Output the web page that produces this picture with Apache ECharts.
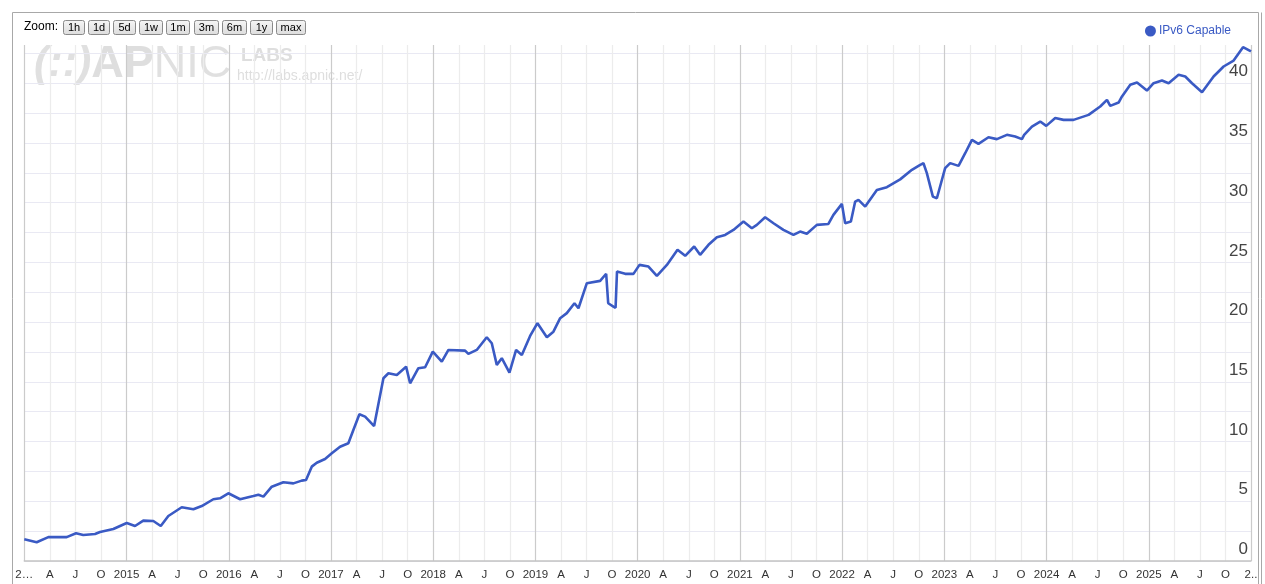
<!DOCTYPE html>
<html>
<head>
<meta charset="utf-8">
<script src="https://cdn.jsdelivr.net/npm/echarts@6/dist/echarts.min.js"></script>
<style>
html,body{margin:0;padding:0;background:#fff;}
#chart{width:1265px;height:584px;}
</style>
</head>
<body>
<div id="chart"></div>
<script>
// Time in decimal years (2014.5 = early July 2014)
const years = [
  2014.000, 2014.121, 2014.235, 2014.415, 2014.506, 2014.577, 2014.692, 2014.741, 2014.871,
  2015.002, 2015.083, 2015.164, 2015.262, 2015.335, 2015.409, 2015.540, 2015.654, 2015.736, 2015.849, 2015.915,
  2015.996, 2016.111, 2016.241, 2016.290, 2016.339, 2016.421, 2016.534, 2016.632, 2016.714, 2016.756, 2016.812, 2016.861, 2016.942,
  2017.008, 2017.089, 2017.170, 2017.219, 2017.278, 2017.334, 2017.422, 2017.513, 2017.562, 2017.644, 2017.735, 2017.774, 2017.855, 2017.921,
  2017.996, 2018.084, 2018.149, 2018.312, 2018.344, 2018.426, 2018.524, 2018.573, 2018.622, 2018.671, 2018.746, 2018.811, 2018.867, 2018.948,
  2019.020, 2019.112, 2019.176, 2019.242, 2019.307, 2019.382, 2019.421, 2019.503, 2019.633, 2019.692, 2019.712, 2019.763, 2019.784, 2019.798, 2019.878, 2019.959,
  2020.018, 2020.106, 2020.188, 2020.286, 2020.390, 2020.465, 2020.553, 2020.611, 2020.693, 2020.775, 2020.856, 2020.937,
  2021.035, 2021.117, 2021.166, 2021.247, 2021.329, 2021.426, 2021.524, 2021.589, 2021.655, 2021.753, 2021.866, 2021.915, 2021.998,
  2022.030, 2022.086, 2022.128, 2022.160, 2022.226, 2022.340, 2022.438, 2022.568, 2022.683, 2022.764, 2022.796, 2022.829, 2022.888, 2022.927, 2022.976,
  2023.008, 2023.057, 2023.139, 2023.204, 2023.270, 2023.334, 2023.432, 2023.514, 2023.612, 2023.693, 2023.759, 2023.781, 2023.857, 2023.938,
  2023.997, 2024.085, 2024.166, 2024.264, 2024.411, 2024.525, 2024.591, 2024.623, 2024.705, 2024.738, 2024.819, 2024.885, 2024.982,
  2025.047, 2025.129, 2025.194, 2025.292, 2025.357, 2025.423, 2025.521, 2025.634, 2025.732, 2025.830, 2025.922, 2026.000
];
// IPv6 capable, percent
const ipv6Capable = [
  1.82, 1.57, 2.00, 2.00, 2.32, 2.18, 2.26, 2.43, 2.68,
  3.18, 2.93, 3.38, 3.35, 2.93, 3.77, 4.50, 4.33, 4.60, 5.17, 5.25,
  5.67, 5.17, 5.44, 5.55, 5.39, 6.22, 6.59, 6.50, 6.73, 6.78, 7.90, 8.23, 8.54,
  9.02, 9.57, 9.86, 10.97, 12.28, 12.09, 11.30, 15.30, 15.72, 15.58, 16.27, 14.88, 16.14, 16.22,
  17.53, 16.69, 17.67, 17.61, 17.34, 17.67, 18.73, 18.23, 16.42, 16.98, 15.77, 17.67, 17.25, 18.84,
  19.91, 18.73, 19.20, 20.33, 20.75, 21.58, 21.16, 23.26, 23.45, 24.05, 21.58, 21.30, 21.20, 24.23, 24.04, 24.04,
  24.79, 24.65, 23.87, 24.79, 26.05, 25.55, 26.33, 25.63, 26.47, 27.11, 27.30, 27.72,
  28.42, 27.86, 28.14, 28.78, 28.28, 27.72, 27.30, 27.58, 27.39, 28.14, 28.22, 28.98, 29.90,
  28.28, 28.42, 30.09, 30.23, 29.67, 31.07, 31.30, 31.95, 32.75, 33.17, 33.30, 32.47, 30.51, 30.37, 31.90,
  32.89, 33.31, 33.08, 34.14, 35.26, 34.92, 35.48, 35.32, 35.68, 35.54, 35.32, 35.68, 36.37, 36.79,
  36.43, 37.08, 36.93, 36.93, 37.35, 38.05, 38.61, 38.10, 38.38, 38.89, 39.87, 40.06, 39.39,
  40.00, 40.23, 40.00, 40.70, 40.56, 40.00, 39.25, 40.56, 41.40, 41.90, 43.02, 42.66
];
const quarterLabels = ['', 'A', 'J', 'O'];
const yTickLabels = [0, 5, 10, 15, 20, 25, 30, 35, 40];
const zoomButtons = ['1h', '1d', '5d', '1w', '1m', '3m', '6m', '1y', 'max'];

const seriesData = years.map((t, i) => [t, ipv6Capable[i]]);
const LINE = '#3a5ac4';

// zoom button layout
const btnX = [63, 88, 113, 139, 166, 194, 222, 250, 276];
const btnW = [21, 21, 22, 23, 23, 24, 24, 22, 29];
const graphics = [];
graphics.push({
  type: 'rect', z: 0, silent: true,
  shape: { x: 12.5, y: 12.5, width: 1246, height: 600 },
  style: { fill: null, stroke: '#a8a8a8', lineWidth: 1 }
});
graphics.push({
  type: 'line', z: 0, silent: true,
  shape: { x1: 1261.5, y1: 12.5, x2: 1261.5, y2: 590 },
  style: { stroke: '#a8a8a8', lineWidth: 1 }
});
graphics.push({
  type: 'text', left: 24, top: 21, silent: true,
  style: { text: 'Zoom:', fill: '#000', font: '12px "Liberation Sans", Arial, sans-serif' }
});
zoomButtons.forEach((b, i) => {
  graphics.push({
    type: 'rect', silent: true,
    shape: { x: btnX[i] + 0.5, y: 20.5, width: btnW[i], height: 14, r: 2 },
    style: {
      fill: new echarts.graphic.LinearGradient(0, 0, 0, 1, [
        { offset: 0, color: '#f6f6f6' }, { offset: 1, color: '#dcdcdc' }
      ]),
      stroke: '#8a8a8a', lineWidth: 1
    }
  });
  graphics.push({
    type: 'text', silent: true,
    x: btnX[i] + 0.5 + btnW[i] / 2, y: 27.8,
    style: { text: b, fill: '#000', align: 'center', verticalAlign: 'middle',
      font: '11px "Liberation Sans", Arial, sans-serif' }
  });
});
// APNIC Labs watermark
graphics.push({
  type: 'text', silent: true, z: -1, x: 34, y: 42,
  style: {
    text: '{a|(::)}{b|AP}{c|NIC}',
    rich: {
      a: { font: 'italic bold 43px "Liberation Sans", Arial, sans-serif', fill: '#dadada' },
      b: { font: 'bold 45px "Liberation Sans", Arial, sans-serif', fill: '#d8d8d8' },
      c: { font: '45px "Liberation Sans", Arial, sans-serif', fill: '#dadada' }
    },
    opacity: 0.85
  }
});
graphics.push({
  type: 'text', silent: true, z: -1, x: 241, y: 46,
  style: { text: 'LABS', fill: '#dedede', font: 'bold 19px "Liberation Sans", Arial, sans-serif' }
});
graphics.push({
  type: 'text', silent: true, z: -1, x: 237, y: 69,
  style: { text: 'http://labs.apnic.net/', fill: '#dedede', font: '14px "Liberation Sans", Arial, sans-serif' }
});

const chart = echarts.init(document.getElementById('chart'), null, { renderer: 'canvas' });
chart.setOption({
  animation: false,
  backgroundColor: '#fff',
  graphic: graphics,
  legend: {
    top: 20, right: 29,
    icon: 'circle', itemWidth: 11, itemHeight: 11, itemGap: 10,
    textStyle: { color: LINE, fontSize: 12, fontFamily: '"Liberation Sans", Arial, sans-serif', padding: [0, 0, 0, -2] },
    data: ['IPv6 Capable']
  },
  grid: { left: 24.3, right: 14, top: 45, bottom: 23, containLabel: false, outerBoundsMode: 'none' },
  xAxis: {
    type: 'value', min: 2014, max: 2026, interval: 0.25,
    axisLine: { show: true, lineStyle: { color: '#c4c4c4', width: 1.5 } },
    axisTick: { show: false },
    axisLabel: {
      margin: 8, color: '#333', fontSize: 11.5,
      fontFamily: '"Liberation Sans", Arial, sans-serif',
      showMinLabel: true, showMaxLabel: true,
      formatter: function (v) {
        const k = Math.round((v - 2014) * 4);
        if (k === 0) return '2\u2026';
        if (k === 48) return '2..';
        if (k % 4 === 0) return String(2014 + k / 4);
        return quarterLabels[k % 4];
      }
    },
    splitLine: { show: true, lineStyle: { color: ['#cbcbcb', '#ececec', '#ececec', '#ececec'], width: 1.2 } }
  },
  yAxis: {
    type: 'value', position: 'right', min: 0, max: 43.2, interval: 2.5,
    axisLine: { show: false }, axisTick: { show: false },
    axisLabel: {
      inside: true, margin: 3, color: '#444', fontSize: 17,
      fontFamily: '"Liberation Sans", Arial, sans-serif',
      align: 'right', verticalAlign: 'bottom', padding: [0, 0, 3, 0],
      showMaxLabel: false,
      formatter: function (v) { return yTickLabels.indexOf(v) >= 0 ? String(v) : ''; }
    },
    splitLine: { show: true, showMaxLine: false, lineStyle: { color: '#e9e9f3', width: 1.2 } }
  },
  series: [{
    name: 'IPv6 Capable', type: 'line', data: seriesData,
    showSymbol: false, smooth: false,
    lineStyle: { color: LINE, width: 2.6 },
    itemStyle: { color: LINE },
    z: 5
  }]
});
</script>
</body>
</html>
